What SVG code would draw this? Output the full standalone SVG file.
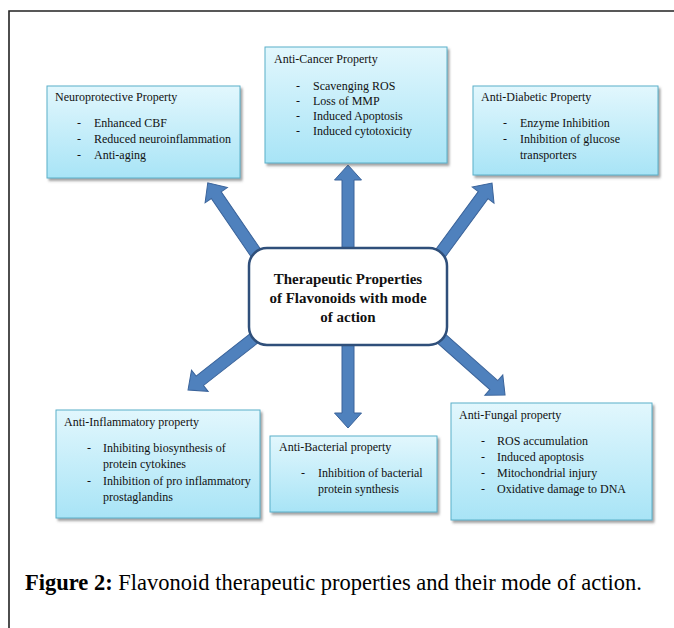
<svg xmlns="http://www.w3.org/2000/svg" width="674" height="628" viewBox="0 0 674 628">
<defs>
<linearGradient id="boxg" x1="0" y1="0" x2="0" y2="1">
<stop offset="0" stop-color="#e2f7fd"/>
<stop offset="1" stop-color="#a8e4f6"/>
</linearGradient>
<filter id="sh" x="-10%" y="-10%" width="125%" height="130%">
<feDropShadow dx="2" dy="2.5" stdDeviation="1.2" flood-color="#666" flood-opacity="0.6"/>
</filter>
</defs>
<style>
.box{fill:url(#boxg);stroke:#5bb0c9;stroke-width:1;filter:url(#sh);}
.t{font-family:"Liberation Serif","Times New Roman",serif;font-size:12px;fill:#111;}
.c{font-family:"Liberation Serif","Times New Roman",serif;font-size:15px;font-weight:bold;fill:#111;text-anchor:middle;}
.arrow{fill:#4f81bd;stroke:#3a639a;stroke-width:1;}
.cap{font-family:"Liberation Serif","Times New Roman",serif;font-size:22.5px;fill:#000;}
</style>
<rect width="674" height="628" fill="#fff"/>
<path d="M9,628 V11 H674" fill="none" stroke="#222" stroke-width="1.6"/>

<g id="connectors">
<polygon class="arrow" points="0,-6 75,-6 75,-13.5 90,0 75,13.5 75,6 0,6" transform="translate(348,255) rotate(-90)"/>
<polygon class="arrow" points="0,-6 75,-6 75,-13.5 90,0 75,13.5 75,6 0,6" transform="translate(348,338) rotate(90)"/>
<polygon class="arrow" points="0,-6 81,-6 81,-13.5 96,0 81,13.5 81,6 0,6" transform="translate(262,262) rotate(-124.4)"/>
<polygon class="arrow" points="0,-6 83,-6 83,-13.5 98,0 83,13.5 83,6 0,6" transform="translate(434,262) rotate(-53.7)"/>
<polygon class="arrow" points="0,-6 79,-6 79,-13.5 94,0 79,13.5 79,6 0,6" transform="translate(262,332) rotate(141.9)"/>
<polygon class="arrow" points="0,-6 80,-6 80,-13.5 95,0 80,13.5 80,6 0,6" transform="translate(434,332) rotate(41.6)"/>
</g>

<g id="center">
<rect x="249" y="248" width="198" height="97" rx="18" fill="#fff" stroke="#2f4f7a" stroke-width="2.5"/>
<text class="c" x="348" y="284">Therapeutic Properties</text>
<text class="c" x="348" y="303">of Flavonoids with mode</text>
<text class="c" x="348" y="322">of action</text>
</g>

<g id="neuroprotective">
<rect class="box" x="47" y="86" width="193" height="92"/>
<text class="t" x="55" y="101">Neuroprotective Property</text>
<text class="t" x="77" y="127">-</text><text class="t" x="94" y="127">Enhanced CBF</text>
<text class="t" x="77" y="143">-</text><text class="t" x="94" y="143">Reduced neuroinflammation</text>
<text class="t" x="77" y="159">-</text><text class="t" x="94" y="159">Anti-aging</text>
</g>

<g id="anticancer">
<rect class="box" x="265" y="47" width="182" height="116"/>
<text class="t" x="274" y="63">Anti-Cancer Property</text>
<text class="t" x="296" y="90">-</text><text class="t" x="313" y="90">Scavenging ROS</text>
<text class="t" x="296" y="105">-</text><text class="t" x="313" y="105">Loss of MMP</text>
<text class="t" x="296" y="120">-</text><text class="t" x="313" y="120">Induced Apoptosis</text>
<text class="t" x="296" y="135">-</text><text class="t" x="313" y="135">Induced cytotoxicity</text>
</g>

<g id="antidiabetic">
<rect class="box" x="473" y="86" width="185" height="89"/>
<text class="t" x="481" y="101">Anti-Diabetic Property</text>
<text class="t" x="503" y="127">-</text><text class="t" x="520" y="127">Enzyme Inhibition</text>
<text class="t" x="503" y="143">-</text><text class="t" x="520" y="143">Inhibition of glucose</text>
<text class="t" x="520" y="159">transporters</text>
</g>

<g id="antiinflammatory">
<rect class="box" x="56" y="410" width="204" height="108"/>
<text class="t" x="64" y="426">Anti-Inflammatory property</text>
<text class="t" x="87" y="452">-</text><text class="t" x="103" y="452">Inhibiting biosynthesis of</text>
<text class="t" x="103" y="468">protein cytokines</text>
<text class="t" x="87" y="485">-</text><text class="t" x="103" y="485">Inhibition of pro inflammatory</text>
<text class="t" x="103" y="501">prostaglandins</text>
</g>

<g id="antibacterial">
<rect class="box" x="270" y="436" width="167" height="76"/>
<text class="t" x="279" y="451">Anti-Bacterial property</text>
<text class="t" x="301" y="477">-</text><text class="t" x="318" y="477">Inhibition of bacterial</text>
<text class="t" x="318" y="493">protein synthesis</text>
</g>

<g id="antifungal">
<rect class="box" x="451" y="403" width="201" height="117"/>
<text class="t" x="459" y="419">Anti-Fungal property</text>
<text class="t" x="481" y="445">-</text><text class="t" x="497" y="445">ROS accumulation</text>
<text class="t" x="481" y="461">-</text><text class="t" x="497" y="461">Induced apoptosis</text>
<text class="t" x="481" y="477">-</text><text class="t" x="497" y="477">Mitochondrial injury</text>
<text class="t" x="481" y="493">-</text><text class="t" x="497" y="493">Oxidative damage to DNA</text>
</g>

<g id="caption">
<text class="cap" x="25" y="590"><tspan font-weight="bold">Figure 2:</tspan> Flavonoid therapeutic properties and their mode of action.</text>
</g>
</svg>
